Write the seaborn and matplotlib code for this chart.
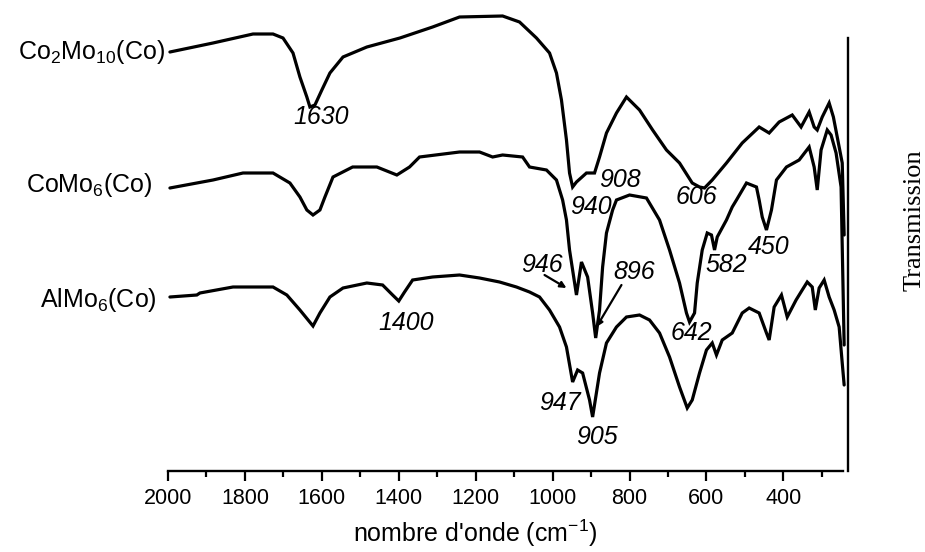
import matplotlib
matplotlib.use("Agg")
import matplotlib.pyplot as plt
from matplotlib.ticker import MultipleLocator
import numpy as np
import pandas as pd
import seaborn as sns

# --- FTIR spectra (wavenumber in cm-1, transmission in arbitrary offset units) ---
wn_co2mo10 = [1995, 1883, 1779, 1727, 1701, 1675, 1657, 1639, 1631, 1618, 1600, 1579,
              1545, 1483, 1397, 1312, 1242, 1130, 1086, 1042, 1008, 990, 977, 964,
              956, 948, 938, 912, 891, 878, 860, 834, 808, 774, 740, 704, 670, 637,
              618, 605, 585, 548, 507, 463, 437, 411, 377, 354, 333, 320, 312, 299,
              281, 270, 260, 247, 242]
t_co2mo10 = [419, 428, 437, 437, 433, 418, 394, 374, 364, 366, 381, 398,
             414, 424, 433, 444, 454, 455, 449, 433, 418, 398, 371, 331,
             298, 284, 289, 298, 298, 314, 338, 358, 374, 361, 341, 321, 308, 288,
             284, 283, 291, 308, 328, 344, 338, 349, 356, 344, 359, 344, 341, 354,
             368, 354, 334, 308, 236]

wn_como6 = [1995, 1883, 1805, 1727, 1683, 1657, 1639, 1623, 1605, 1592, 1571, 1520,
            1457, 1405, 1372, 1346, 1242, 1190, 1156, 1130, 1078, 1060, 1016, 990,
            974, 964, 956, 948, 938, 925, 909, 896, 888, 878, 870, 860, 844, 834,
            800, 756, 722, 696, 670, 652, 644, 631, 624, 611, 598, 587, 579, 572,
            548, 533, 522, 496, 470, 463, 455, 444, 431, 418, 392, 359, 333, 320,
            312, 302, 286, 276, 263, 250, 242]
t_como6 = [283, 291, 298, 298, 288, 274, 261, 256, 261, 274, 294, 304,
           304, 296, 304, 314, 319, 319, 314, 316, 314, 304, 301, 291,
           271, 251, 221, 201, 176, 209, 194, 158, 133, 161, 204, 238, 261, 271,
           276, 273, 251, 221, 188, 158, 149, 158, 188, 221, 238, 236, 221, 234,
           251, 264, 271, 288, 284, 271, 254, 241, 261, 291, 304, 311, 324, 304,
           281, 321, 341, 336, 318, 284, 126]

wn_almo6 = [1995, 1925, 1917, 1831, 1727, 1691, 1657, 1623, 1605, 1579, 1545, 1483,
            1442, 1416, 1400, 1385, 1364, 1312, 1242, 1190, 1138, 1094, 1060, 1034,
            1008, 982, 964, 948, 935, 922, 904, 896, 878, 860, 834, 808, 774, 748,
            722, 696, 670, 650, 637, 618, 600, 585, 574, 559, 533, 507, 489, 463,
            444, 437, 424, 405, 390, 367, 351, 338, 325, 317, 307, 294, 281, 268,
            255, 247, 242]
t_almo6 = [174, 176, 178, 184, 184, 176, 161, 145, 158, 174, 183, 188,
           186, 176, 170, 179, 191, 194, 196, 193, 189, 184, 179, 174,
           161, 144, 124, 89, 101, 98, 71, 54, 98, 128, 144, 154, 156, 151,
           138, 114, 84, 63, 71, 98, 121, 128, 116, 131, 138, 158, 163, 158,
           138, 131, 164, 176, 154, 171, 181, 189, 184, 161, 183, 191, 174, 161,
           144, 108, 86]

sample_names = ["Co$_2$Mo$_{10}$(Co)", "CoMo$_6$(Co)", "AlMo$_6$(Co)"]
label_pos = [(2008, 419), (2040, 286), (2030, 171)]

# band assignments: text, text position
band_labels = [
    ("1630", (1603, 354)),
    ("940", (901, 264)),
    ("908", (824, 291)),
    ("606", (626, 274)),
    ("946", (1029, 206)),
    ("896", (787, 199)),
    ("642", (639, 138)),
    ("582", (548, 206)),
    ("450", (437, 224)),
    ("947", (982, 68)),
    ("905", (886, 34)),
    ("1400", (1382, 148)),
]
# pointer arrows: start, tip
band_arrows = [
    ((1021, 196), (964, 183)),
    ((821, 186), (886, 144)),
]

df = pd.concat([
    pd.DataFrame({"wn": wn_co2mo10, "T": t_co2mo10, "sample": "a"}),
    pd.DataFrame({"wn": wn_como6, "T": t_como6, "sample": "b"}),
    pd.DataFrame({"wn": wn_almo6, "T": t_almo6, "sample": "c"}),
])

sns.set_theme(style="white")
plt.rcParams["font.family"] = ["Liberation Sans", "DejaVu Sans"]
plt.rcParams["mathtext.default"] = "regular"
plt.rcParams["text.color"] = "black"
plt.rcParams["axes.labelcolor"] = "black"
plt.rcParams["xtick.color"] = "black"

fig = plt.figure(figsize=(9.25, 5.52), dpi=100)
W, H = 925, 552
ax = fig.add_axes([168 / W, 1 - 471 / H, 675 / W, 460 / H])

sns.lineplot(data=df, x="wn", y="T", hue="sample", units="sample", estimator=None,
             palette=["black", "black", "black"], linewidth=2.3, legend=False,
             sort=False, ax=ax)
for line in ax.lines:
    line.set_clip_on(False)
    line.set_solid_joinstyle("miter")

ax.set_xlim(2000, 245)
ax.set_ylim(0, 460)

ax.xaxis.set_major_locator(MultipleLocator(200))
ax.xaxis.set_minor_locator(MultipleLocator(100))
ax.tick_params(axis="x", which="major", direction="out", length=7.5, width=1.6,
               labelsize=15.5, pad=5, bottom=True, colors="black")
ax.tick_params(axis="x", which="minor", direction="out", length=4, width=1.6,
               bottom=True, colors="black")
ax.tick_params(axis="y", left=False, right=False, labelleft=False, labelright=False)
ax.set_ylabel("")

for side in ("left", "top"):
    ax.spines[side].set_visible(False)
ax.spines["bottom"].set_linewidth(1.7)
ax.spines["bottom"].set_color("black")
ax.spines["right"].set_linewidth(1.7)
ax.spines["right"].set_color("black")
ax.spines["right"].set_position(("outward", 3.6))
ax.spines["right"].set_bounds(0, 433)

ax.set_xlabel("nombre d'onde (cm$^{-1}$)", fontsize=18, color="black")
ax.xaxis.set_label_coords(0.455, -0.102)

for name, (x, y) in zip(sample_names, label_pos):
    ax.text(x, y, name, fontsize=18, ha="right", va="center", clip_on=False,
            color="black")

for txt, (x, y) in band_labels:
    ax.text(x, y, txt, fontsize=18, style="italic", ha="center", va="center",
            color="black")

for start, tip in band_arrows:
    ax.annotate("", xy=tip, xytext=start,
                arrowprops=dict(arrowstyle="-|>", color="black", lw=1.6,
                                mutation_scale=9, shrinkA=0, shrinkB=0))

fig.text(915 / W, 1 - 220 / H, "Transmission", rotation=90, ha="center", va="center",
         fontsize=19, color="black", family=["Liberation Serif", "DejaVu Serif"])

fig.savefig("out.png", dpi=100, facecolor="white")
